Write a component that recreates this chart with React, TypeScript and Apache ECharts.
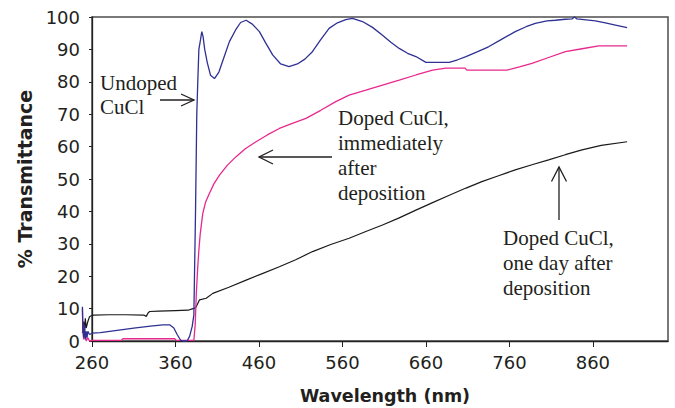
import React, { useEffect, useRef } from "react";
import * as echarts from "echarts";

const xTicks = [260, 360, 460, 560, 660, 760, 860];

const undopedX = [248.5, 249, 250, 251, 252, 253, 254, 255, 257, 260, 270, 290, 310, 330, 345, 353, 358, 362, 366, 369, 374, 377, 380, 382, 384, 385.5, 386.7, 388, 390, 391.5, 393, 395, 398, 402, 406.7, 412, 418, 424.6, 432, 438, 444.6, 452, 460.5, 468, 476.4, 486, 496, 506, 515, 524, 534, 544, 554, 564, 572, 584, 596, 608, 618, 628, 638, 648, 660, 688, 698, 708, 722, 735, 750, 767, 780, 791, 805, 815, 827, 835, 838, 841, 852, 863, 875, 887, 901];
const undopedY = [10.6, 4, 1, 5, 0.5, 3, 1, 3, 2, 2.4, 2.6, 3.3, 4, 4.6, 5, 5, 4, 2, 0.3, 0, 0, 1.5, 4.5, 8, 40, 70, 80, 90, 93, 95.5, 94, 90, 86, 82, 81, 83, 87.5, 92.4, 96, 98.3, 99, 97.8, 95.5, 92, 88.3, 85.5, 84.7, 85.5, 87, 89.3, 93, 96.5, 98.2, 99.2, 99.6, 98.6, 96.8, 94.4, 92.2, 90.3, 88.8, 87.8, 86, 86, 86.8, 87.8, 89.3, 90.8, 93, 95.5, 97, 98, 98.8, 99, 99.3, 99.4, 100, 99.4, 99.1, 98.8, 98.2, 97.5, 96.7];

const dopedNowX = [248.5, 249, 250, 252, 253, 255, 257, 260, 295, 297, 359, 361, 382, 383.6, 385, 386.7, 388, 389.6, 392.7, 396, 400.7, 406, 412.7, 422, 432.6, 444, 456.5, 470, 484.4, 500, 516.3, 534, 552, 568, 588, 608, 628, 648, 668, 684, 707, 709, 757, 772, 787, 807, 827, 847, 867, 901];
const dopedNowY = [10, 4, 0.5, 2, 0, 1, 0, 0.2, 0.2, 0.7, 0.7, 0.2, 0.2, 5, 15, 23, 28, 33, 39.4, 42.8, 45.6, 48.5, 51.2, 54.2, 56.9, 59.4, 61.5, 63.6, 65.6, 67.2, 68.7, 71.2, 73.9, 75.9, 77.4, 79, 80.5, 82.1, 83.6, 84.2, 84.2, 83.6, 83.6, 84.6, 85.7, 87.5, 89.3, 90.2, 91.1, 91.1];

const dopedDayX = [248.5, 250, 251, 252, 253, 255, 257, 259, 262, 280, 300, 322, 325, 327, 329, 340, 360, 375, 381, 384, 386, 388.8, 396.8, 404.7, 424, 444.6, 464, 484.4, 504, 524.2, 546, 568, 588, 608, 628, 648, 668, 688, 708, 727, 747, 767, 787, 807, 827, 847, 870, 901];
const dopedDayY = [2.5, 6, 3, 7, 4, 6, 7.5, 7.8, 8, 8.1, 8.1, 8.0, 7.6, 8.6, 9.1, 9.2, 9.4, 9.5, 10, 10.2, 11.2, 12.7, 13.2, 14.7, 16.6, 18.8, 20.8, 22.9, 25.1, 27.6, 29.8, 31.7, 33.8, 35.8, 38, 40.4, 42.7, 45, 47.2, 49.2, 51, 52.8, 54.4, 55.9, 57.5, 59, 60.4, 61.5];

const zip = (xs: number[], ys: number[]) => xs.map((x, i) => [x, ys[i]]);

const serif = "'Liberation Serif', 'Times New Roman', serif";
const sans = "'DejaVu Sans', sans-serif";
const textColor = "#231f20";

function arrow(points: number[][]) {
  return {
    type: "polyline",
    shape: { points },
    style: { stroke: textColor, lineWidth: 1.3, fill: null },
    silent: true,
  };
}

export default function App() {
  const ref = useRef<HTMLDivElement>(null);
  useEffect(() => {
    if (!ref.current) return;
    const chart = echarts.init(ref.current, null, { renderer: "svg" });
    chart.setOption({
      animation: false,
      backgroundColor: "#ffffff",
      grid: [
        // data grid (extends a little left of the 260 nm axis)
        { left: 82, top: 17, right: 7, bottom: 67, show: false, containLabel: false, outerBoundsMode: "none" },
        // frame grid
        {
          left: 92,
          top: 17,
          right: 7,
          bottom: 67,
          show: true,
          containLabel: false,
          outerBoundsMode: "none",
          borderColor: "#4d4d4d",
          borderWidth: 1.5,
          backgroundColor: "transparent",
        },
      ],
      xAxis: [
        {
          gridIndex: 0,
          type: "value",
          min: 248,
          max: 950,
          name: "Wavelength (nm)",
          nameLocation: "middle",
          nameGap: 46,
          nameTextStyle: { fontFamily: sans, fontWeight: "bold", fontSize: 17.5, color: textColor, padding: [0, 0, 0, 20] },
          axisLine: { show: false },
          axisTick: { show: true, inside: false, length: 6, customValues: xTicks, lineStyle: { color: "#222" } },
          axisLabel: { customValues: xTicks, margin: 12, fontFamily: sans, fontSize: 18, color: textColor },
          splitLine: { show: false },
        },
        {
          gridIndex: 1,
          type: "value",
          min: 260,
          max: 950,
          axisLine: { show: true, lineStyle: { color: "#222", width: 1.3 } },
          axisTick: { show: false },
          axisLabel: { show: false },
          splitLine: { show: false },
        },
      ],
      yAxis: [
        {
          gridIndex: 0,
          type: "value",
          min: 0,
          max: 100,
          interval: 10,
          offset: -10,
          name: "% Transmittance",
          nameLocation: "middle",
          nameRotate: 90,
          nameGap: 56,
          nameTextStyle: { fontFamily: sans, fontWeight: "bold", fontSize: 19, color: textColor },
          axisLine: { show: false },
          axisTick: { show: true, inside: false, length: 3, lineStyle: { color: "#222" } },
          axisLabel: { margin: 12, fontFamily: sans, fontSize: 18, color: textColor },
          splitLine: { show: false },
        },
        {
          gridIndex: 1,
          type: "value",
          min: 0,
          max: 100,
          axisLine: { show: true, lineStyle: { color: "#222", width: 1.3 } },
          axisTick: { show: false },
          axisLabel: { show: false },
          splitLine: { show: false },
        },
      ],
      series: [
        {
          type: "line",
          name: "Doped CuCl, one day after deposition",
          xAxisIndex: 0,
          yAxisIndex: 0,
          data: zip(dopedDayX, dopedDayY),
          showSymbol: false,
          clip: false,
          lineStyle: { color: "#1a1a1a", width: 1.2 },
        },
        {
          type: "line",
          name: "Doped CuCl, immediately after deposition",
          xAxisIndex: 0,
          yAxisIndex: 0,
          data: zip(dopedNowX, dopedNowY),
          showSymbol: false,
          clip: false,
          lineStyle: { color: "#e8288c", width: 1.3 },
        },
        {
          type: "line",
          name: "Undoped CuCl",
          xAxisIndex: 0,
          yAxisIndex: 0,
          data: zip(undopedX, undopedY),
          showSymbol: false,
          clip: false,
          lineStyle: { color: "#2e3192", width: 1.3 },
        },
      ],
      graphic: [
        {
          type: "text",
          left: 100,
          top: 71,
          style: { text: "Undoped\nCuCl", font: `21px ${serif}`, fill: textColor, lineHeight: 24 },
        },
        {
          type: "text",
          left: 338,
          top: 105,
          style: { text: "Doped CuCl,\nimmediately\nafter\ndeposition", font: `21px ${serif}`, fill: textColor, lineHeight: 25 },
        },
        {
          type: "text",
          left: 503,
          top: 225,
          style: { text: "Doped CuCl,\none day after\ndeposition", font: `21px ${serif}`, fill: textColor, lineHeight: 25 },
        },
        arrow([[160, 100], [194, 100]]),
        arrow([[181, 94], [194, 100], [181, 106]]),
        arrow([[332, 157], [259, 157]]),
        arrow([[273, 150], [259, 157], [273, 164]]),
        arrow([[559, 220], [559, 167]]),
        arrow([[551.5, 181.5], [559, 167], [566.5, 181.5]]),
      ],
    });
    return () => chart.dispose();
  }, []);
  return <div ref={ref} style={{ width: 675, height: 408, position: "absolute", left: 0, top: 0 }} />;
}
